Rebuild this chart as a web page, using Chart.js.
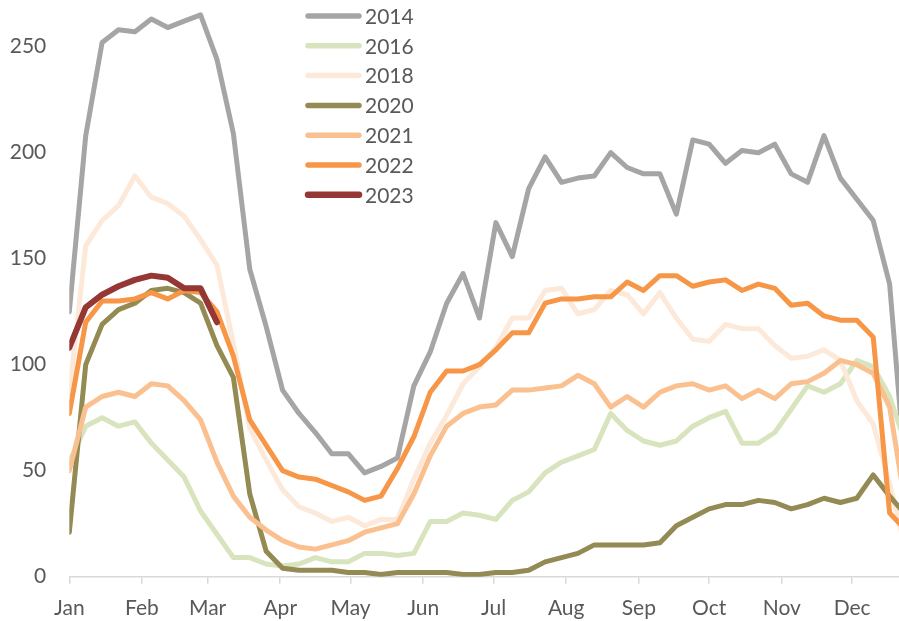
<!DOCTYPE html>
<html>
<head>
<meta charset="utf-8">
<script src="https://cdn.jsdelivr.net/npm/chart.js@4.4.0/dist/chart.umd.min.js"></script>
<style>
  html, body { margin: 0; padding: 0; background: #fff; }
  #graphContainer { width: 899px; height: 621px; }
</style>
</head>
<body>
<div id="graphContainer"><canvas id="myChart" width="899" height="621"></canvas></div>
<script>
// Month ticks on the x axis (day of year where each month starts)
var monthLabels = ["Jan", "Feb", "Mar", "Apr", "May", "Jun", "Jul", "Aug", "Sep", "Oct", "Nov", "Dec"];
var monthStarts = [0, 31, 59, 90, 120, 151, 181, 212, 243, 273, 304, 334];

// Y axis tick labels
var yTicks = [0, 50, 100, 150, 200, 250];

// Weekly readings (week 1 starts on Jan 1)
var s2014 = [125, 208, 252, 258, 257, 263, 259, 262, 265, 244, 209, 145, 118, 88, 77, 68, 58, 58, 49, 52,
             56, 90, 106, 129, 143, 122, 167, 151, 183, 198, 186, 188, 189, 200, 193, 190, 190, 171, 206, 204,
             195, 201, 200, 204, 190, 186, 208, 188, 178, 168, 138, 45];
var s2016 = [54, 71, 75, 71, 73, 63, 55, 47, 31, 20, 9, 9, 6, 5, 6, 9, 7, 7, 11, 11,
             10, 11, 26, 26, 30, 29, 27, 36, 40, 49, 54, 57, 60, 77, 69, 64, 62, 64, 71, 75,
             78, 63, 63, 68, 79, 90, 87, 91, 102, 99, 85, 62];
var s2018 = [86, 156, 168, 175, 189, 179, 176, 170, 159, 147, 110, 70, 55, 41, 33, 30, 26, 28, 24, 27,
             27, 46, 63, 76, 91, 99, 108, 122, 122, 135, 136, 124, 126, 135, 133, 124, 134, 122, 112, 111,
             119, 117, 117, 109, 103, 104, 107, 102, 83, 72, 44, 12];
var s2020 = [21, 100, 119, 126, 129, 135, 136, 134, 129, 109, 94, 39, 12, 4, 3, 3, 3, 2, 2, 1,
             2, 2, 2, 2, 1, 1, 2, 2, 3, 7, 9, 11, 15, 15, 15, 15, 16, 24, 28, 32,
             34, 34, 36, 35, 32, 34, 37, 35, 37, 48, 38, 29];
var s2021 = [50, 80, 85, 87, 85, 91, 90, 83, 74, 54, 38, 28, 22, 17, 14, 13, 15, 17, 21, 23,
             25, 39, 57, 71, 77, 80, 81, 88, 88, 89, 90, 95, 91, 80, 85, 80, 87, 90, 91, 88,
             90, 84, 88, 84, 91, 92, 96, 102, 100, 96, 80, 32];
var s2022 = [77, 120, 130, 130, 131, 134, 131, 135, 134, 125, 104, 74, 62, 50, 47, 46, 43, 40, 36, 38,
             51, 66, 87, 97, 97, 100, 107, 115, 115, 129, 131, 131, 132, 132, 139, 135, 142, 142, 137, 139,
             140, 135, 138, 136, 128, 129, 123, 121, 121, 113, 30, 22];
var s2023 = [108, 127, 133, 137, 140, 142, 141, 136, 136, 120];

var seriesNames = ["2014", "2016", "2018", "2020", "2021", "2022", "2023"];
var seriesValues = [s2014, s2016, s2018, s2020, s2021, s2022, s2023];
var seriesColors = ["#a5a5a5", "#d7e4bd", "#fde9d9", "#948a54", "#fac090", "#f79646", "#953735"];
var seriesWidths = [5, 5, 5, 5, 5, 5, 6];

var FONT = "Lato";
var TEXT_COLOR = "#595959";

// Pair each weekly value with its day of year
function toPoints(values) {
    var pts = [];
    for (var i = 0; i < values.length; i++) {
        pts.push({ x: i * 7, y: values[i] });
    }
    return pts;
}

var datasets = [];
for (var i = 0; i < seriesNames.length; i++) {
    datasets.push({
        label: seriesNames[i],
        data: toPoints(seriesValues[i]),
        borderColor: seriesColors[i],
        backgroundColor: seriesColors[i],
        borderWidth: seriesWidths[i],
        borderJoinStyle: "round",
        borderCapStyle: "round",
        pointRadius: 0,
        tension: 0,
        fill: false,
        order: seriesNames.length - i   // later years on top, like Excel
    });
}

// Vertical legend drawn over the plot, top middle
var legendOverlay = {
    id: "legendOverlay",
    afterDraw: function(chart) {
        var ctx = chart.ctx;
        ctx.save();
        ctx.font = "21px " + FONT;
        ctx.textBaseline = "middle";
        ctx.textAlign = "left";
        for (var i = 0; i < seriesNames.length; i++) {
            var y = 16 + i * 29.8;
            ctx.strokeStyle = seriesColors[i];
            ctx.lineWidth = seriesWidths[i] + 0.5;
            ctx.lineCap = "round";
            ctx.beginPath();
            ctx.moveTo(308, y);
            ctx.lineTo(359, y);
            ctx.stroke();
            ctx.fillStyle = TEXT_COLOR;
            ctx.fillText(seriesNames[i], 365, y + 1);
        }
        ctx.restore();
    }
};

var ctx = document.getElementById("myChart").getContext("2d");
new Chart(ctx, {
    type: "line",
    data: { datasets: datasets },
    options: {
        responsive: false,
        animation: false,
        devicePixelRatio: 1,
        layout: { padding: 0 },
        plugins: {
            legend: { display: false },
            tooltip: { enabled: false }
        },
        scales: {
            x: {
                type: "linear",
                min: 0,
                max: 354,
                afterBuildTicks: function(scale) {
                    scale.ticks = monthStarts.map(function(v) { return { value: v }; });
                },
                afterFit: function(scale) {
                    scale.height = 44.3;
                    scale.paddingLeft = 0;
                    scale.paddingRight = 0;
                },
                ticks: {
                    autoSkip: false,
                    maxRotation: 0,
                    padding: 12,
                    color: TEXT_COLOR,
                    font: { family: FONT, size: 21 },
                    callback: function(value, index) { return monthLabels[index]; }
                },
                grid: {
                    display: true,
                    drawOnChartArea: false,
                    drawTicks: true,
                    tickLength: 7,
                    color: "#d9d9d9",
                    lineWidth: 1.5
                },
                border: { display: true, color: "#d9d9d9", width: 1.5 }
            },
            y: {
                min: 0,
                max: 272,
                afterBuildTicks: function(scale) {
                    scale.ticks = yTicks.map(function(v) { return { value: v }; });
                },
                afterFit: function(scale) {
                    scale.width = 69.3;
                    scale.paddingTop = 0;
                    scale.paddingBottom = 0;
                },
                ticks: {
                    padding: 23,
                    color: TEXT_COLOR,
                    font: { family: FONT, size: 21 }
                },
                grid: { display: false, drawTicks: false },
                border: { display: false }
            }
        }
    },
    plugins: [legendOverlay]
});
</script>
</body>
</html>
